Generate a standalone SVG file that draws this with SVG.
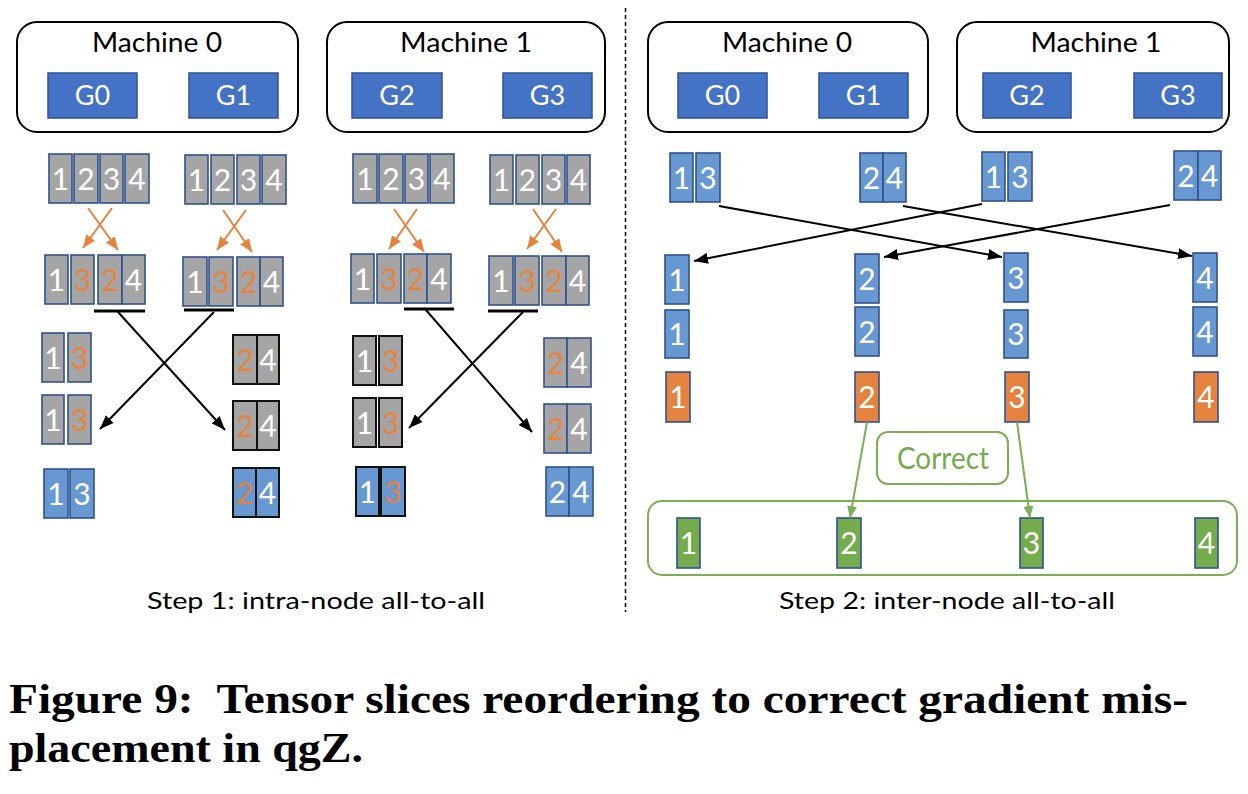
<svg xmlns="http://www.w3.org/2000/svg" width="1248" height="794" viewBox="0 0 1248 794">
<defs>
<style>
.mach{fill:#fff;stroke:#000;stroke-width:2}
.gbox{fill:#4472C4;stroke:#2F528F;stroke-width:1.5}
.glbl{font-family:Lato,"Open Sans",sans-serif;font-size:27px;fill:#fff;text-anchor:middle}
.mlbl{font-family:Lato,"Open Sans",sans-serif;font-size:27px;fill:#000;text-anchor:middle}
.gr{fill:#A5A5A5;stroke:#2F528F;stroke-width:1.6}
.grk{fill:#A5A5A5;stroke:#111;stroke-width:2}
.bl{fill:#6798D2;stroke:#2F528F;stroke-width:1.6}
.blk{fill:#6798D2;stroke:#111;stroke-width:2}
.or{fill:#E5823E;stroke:#2F528F;stroke-width:1.6}
.gn{fill:#74AB4C;stroke:#2F528F;stroke-width:1.6}
.n{font-family:Lato,"Open Sans",sans-serif;font-size:30px;fill:#fff;text-anchor:middle}
.no{font-family:Lato,"Open Sans",sans-serif;font-size:30px;fill:#E5823E;text-anchor:middle}
.ul{stroke:#000;stroke-width:3}
.ab{stroke:#000;stroke-width:2;fill:none;marker-end:url(#mb)}
.ao{stroke:#E5823E;stroke-width:2;fill:none;marker-end:url(#mo)}
.ag{stroke:#7BAF53;stroke-width:2;fill:none;marker-end:url(#mg)}
.step{font-family:Lato,"Open Sans",sans-serif;font-size:24px;fill:#000;text-anchor:middle}
.cap{font-family:"Liberation Serif","Times New Roman",serif;font-size:43px;font-weight:bold;fill:#000}
</style>
<marker id="mb" markerUnits="userSpaceOnUse" markerWidth="14" markerHeight="11" refX="14" refY="5.5" orient="auto"><path d="M0,0 L14,5.5 L0,11 z" fill="#000"/></marker>
<marker id="mo" markerUnits="userSpaceOnUse" markerWidth="13" markerHeight="11" refX="13" refY="5.5" orient="auto"><path d="M0,0 L13,5.5 L0,11 z" fill="#E5823E"/></marker>
<marker id="mg" markerUnits="userSpaceOnUse" markerWidth="12" markerHeight="10" refX="12" refY="5" orient="auto"><path d="M0,0 L12,5 L0,10 z" fill="#7BAF53"/></marker>
</defs>
<rect width="1248" height="794" fill="#fff"/>

<line x1="625.5" y1="8" x2="625.5" y2="612" stroke="#000" stroke-width="1.5" stroke-dasharray="4 3"/>

<!-- Left machines -->
<g id="left-machine0">
<rect class="mach" x="17" y="22" width="281" height="110" rx="20"/>
<text class="mlbl" x="157" y="52" textLength="130" lengthAdjust="spacingAndGlyphs">Machine 0</text>
<rect class="gbox" x="48" y="73" width="89" height="45"/><text class="glbl" x="92.5" y="105">G0</text>
<rect class="gbox" x="189" y="73" width="89" height="45"/><text class="glbl" x="233.5" y="105">G1</text>
</g>
<g id="left-machine1">
<rect class="mach" x="327" y="22" width="278" height="110" rx="20"/>
<text class="mlbl" x="466" y="52" textLength="132" lengthAdjust="spacingAndGlyphs">Machine 1</text>
<rect class="gbox" x="352" y="73" width="90" height="45"/><text class="glbl" x="397" y="105">G2</text>
<rect class="gbox" x="503" y="73" width="89" height="45"/><text class="glbl" x="547.5" y="105">G3</text>
</g>

<!-- Right machines -->
<g id="right-machine0">
<rect class="mach" x="648" y="22" width="280" height="110" rx="20"/>
<text class="mlbl" x="787" y="52" textLength="130" lengthAdjust="spacingAndGlyphs">Machine 0</text>
<rect class="gbox" x="678" y="73" width="89" height="45"/><text class="glbl" x="722.5" y="105">G0</text>
<rect class="gbox" x="819" y="73" width="89" height="45"/><text class="glbl" x="863.5" y="105">G1</text>
</g>
<g id="right-machine1">
<rect class="mach" x="957" y="22" width="272" height="110" rx="20"/>
<text class="mlbl" x="1096" y="52" textLength="131" lengthAdjust="spacingAndGlyphs">Machine 1</text>
<rect class="gbox" x="983" y="73" width="88" height="45"/><text class="glbl" x="1027" y="105">G2</text>
<rect class="gbox" x="1134" y="73" width="88" height="45"/><text class="glbl" x="1178" y="105">G3</text>
</g>

<!-- Left panel, column G0 -->
<g id="l-g0-r1">
<rect class="gr" x="49" y="154" width="23" height="49"/><text class="n" x="60.5" y="189.5">1</text>
<rect class="gr" x="74" y="154" width="24" height="49"/><text class="n" x="86" y="189.5">2</text>
<rect class="gr" x="100" y="154" width="23" height="49"/><text class="n" x="111.5" y="189.5">3</text>
<rect class="gr" x="125" y="154" width="24" height="49"/><text class="n" x="137" y="189.5">4</text>
</g>
<g id="l-g0-r2">
<rect class="gr" x="45" y="255" width="23" height="49"/><text class="n" x="56.5" y="290.5">1</text>
<rect class="gr" x="71" y="255" width="23" height="49"/><text class="no" x="82.5" y="290.5">3</text>
<rect class="gr" x="98" y="255" width="24" height="49"/><text class="no" x="110" y="290.5">2</text>
<rect class="gr" x="122" y="255" width="23" height="49"/><text class="n" x="133.5" y="290.5">4</text>
<line class="ul" x1="94" y1="311" x2="145" y2="311"/>
</g>
<g id="l-g0-r3">
<rect class="gr" x="42" y="333" width="22" height="49"/><text class="n" x="53" y="368.5">1</text>
<rect class="gr" x="68" y="333" width="23" height="49"/><text class="no" x="79.5" y="368.5">3</text>
</g>
<g id="l-g0-r4">
<rect class="gr" x="42" y="395" width="22" height="49"/><text class="n" x="53" y="430.5">1</text>
<rect class="gr" x="68" y="395" width="23" height="49"/><text class="no" x="79.5" y="430.5">3</text>
</g>
<g id="l-g0-r5">
<rect class="bl" x="44" y="469" width="24" height="49"/><text class="n" x="56" y="504.5">1</text>
<rect class="bl" x="70" y="469" width="24" height="49"/><text class="n" x="82" y="504.5">3</text>
</g>

<!-- Left panel, column G1 -->
<g id="l-g1-r1">
<rect class="gr" x="185" y="155" width="23" height="49"/><text class="n" x="196.5" y="190.5">1</text>
<rect class="gr" x="211" y="155" width="23" height="49"/><text class="n" x="222.5" y="190.5">2</text>
<rect class="gr" x="237" y="155" width="23" height="49"/><text class="n" x="248.5" y="190.5">3</text>
<rect class="gr" x="262" y="155" width="24" height="49"/><text class="n" x="274" y="190.5">4</text>
</g>
<g id="l-g1-r2">
<rect class="gr" x="183" y="257" width="24" height="49"/><text class="n" x="195" y="292.5">1</text>
<rect class="gr" x="209" y="257" width="24" height="49"/><text class="no" x="221" y="292.5">3</text>
<rect class="gr" x="237" y="257" width="23" height="49"/><text class="no" x="248.5" y="292.5">2</text>
<rect class="gr" x="260" y="257" width="23" height="49"/><text class="n" x="271.5" y="292.5">4</text>
<line class="ul" x1="184" y1="310" x2="234" y2="310"/>
</g>
<g id="l-g1-r3">
<rect class="grk" x="233" y="335" width="24" height="49"/><text class="no" x="245" y="370.5">2</text>
<rect class="grk" x="257" y="335" width="22" height="49"/><text class="n" x="268" y="370.5">4</text>
</g>
<g id="l-g1-r4">
<rect class="grk" x="233" y="401" width="24" height="49"/><text class="no" x="245" y="436.5">2</text>
<rect class="grk" x="257" y="401" width="22" height="49"/><text class="n" x="268" y="436.5">4</text>
</g>
<g id="l-g1-r5">
<rect class="blk" x="233" y="468" width="23" height="49"/><text class="no" x="244.5" y="503.5">2</text>
<rect class="blk" x="256" y="468" width="23" height="49"/><text class="n" x="267.5" y="503.5">4</text>
</g>

<!-- Left panel, column G2 -->
<g id="l-g2-r1">
<rect class="gr" x="353" y="154" width="24" height="49"/><text class="n" x="365" y="189.5">1</text>
<rect class="gr" x="379" y="154" width="24" height="49"/><text class="n" x="391" y="189.5">2</text>
<rect class="gr" x="405" y="154" width="23" height="49"/><text class="n" x="416.5" y="189.5">3</text>
<rect class="gr" x="430" y="154" width="24" height="49"/><text class="n" x="442" y="189.5">4</text>
</g>
<g id="l-g2-r2">
<rect class="gr" x="351" y="254" width="23" height="49"/><text class="n" x="362.5" y="289.5">1</text>
<rect class="gr" x="377" y="254" width="24" height="49"/><text class="no" x="389" y="289.5">3</text>
<rect class="gr" x="404" y="254" width="23" height="49"/><text class="no" x="415.5" y="289.5">2</text>
<rect class="gr" x="427" y="254" width="24" height="49"/><text class="n" x="439" y="289.5">4</text>
<line class="ul" x1="404" y1="309" x2="454" y2="309"/>
</g>
<g id="l-g2-r3">
<rect class="grk" x="353" y="336" width="23" height="49"/><text class="n" x="364.5" y="371.5">1</text>
<rect class="grk" x="379" y="336" width="23" height="49"/><text class="no" x="390.5" y="371.5">3</text>
</g>
<g id="l-g2-r4">
<rect class="grk" x="353" y="398" width="23" height="49"/><text class="n" x="364.5" y="433.5">1</text>
<rect class="grk" x="379" y="398" width="23" height="49"/><text class="no" x="390.5" y="433.5">3</text>
</g>
<g id="l-g2-r5">
<rect class="blk" x="356" y="467" width="23" height="49"/><text class="n" x="367.5" y="502.5">1</text>
<rect class="blk" x="381" y="467" width="24" height="49"/><text class="no" x="393" y="502.5">3</text>
</g>

<!-- Left panel, column G3 -->
<g id="l-g3-r1">
<rect class="gr" x="490" y="155" width="23" height="49"/><text class="n" x="501.5" y="190.5">1</text>
<rect class="gr" x="516" y="155" width="23" height="49"/><text class="n" x="527.5" y="190.5">2</text>
<rect class="gr" x="542" y="155" width="23" height="49"/><text class="n" x="553.5" y="190.5">3</text>
<rect class="gr" x="567" y="155" width="23" height="49"/><text class="n" x="578.5" y="190.5">4</text>
</g>
<g id="l-g3-r2">
<rect class="gr" x="489" y="256" width="24" height="49"/><text class="n" x="501" y="291.5">1</text>
<rect class="gr" x="515" y="256" width="24" height="49"/><text class="no" x="527" y="291.5">3</text>
<rect class="gr" x="542" y="256" width="24" height="49"/><text class="no" x="554" y="291.5">2</text>
<rect class="gr" x="566" y="256" width="23" height="49"/><text class="n" x="577.5" y="291.5">4</text>
<line class="ul" x1="488" y1="311" x2="538" y2="311"/>
</g>
<g id="l-g3-r3">
<rect class="gr" x="544" y="338" width="23" height="49"/><text class="no" x="555.5" y="373.5">2</text>
<rect class="gr" x="567" y="338" width="24" height="49"/><text class="n" x="579" y="373.5">4</text>
</g>
<g id="l-g3-r4">
<rect class="gr" x="544" y="404" width="23" height="49"/><text class="no" x="555.5" y="439.5">2</text>
<rect class="gr" x="567" y="404" width="24" height="49"/><text class="n" x="579" y="439.5">4</text>
</g>
<g id="l-g3-r5">
<rect class="bl" x="546" y="467" width="23" height="49"/><text class="n" x="557.5" y="502.5">2</text>
<rect class="bl" x="569" y="467" width="24" height="49"/><text class="n" x="581" y="502.5">4</text>
</g>

<!-- Right panel row 1 -->
<g id="r-g0-r1">
<rect class="bl" x="670" y="153" width="23" height="49"/><text class="n" x="681.5" y="188.5">1</text>
<rect class="bl" x="696" y="153" width="24" height="49"/><text class="n" x="708" y="188.5">3</text>
</g>
<g id="r-g1-r1">
<rect class="bl" x="860" y="153" width="23" height="49"/><text class="n" x="871.5" y="188.5">2</text>
<rect class="bl" x="883" y="153" width="23" height="49"/><text class="n" x="894.5" y="188.5">4</text>
</g>
<g id="r-g2-r1">
<rect class="bl" x="982" y="152" width="23" height="49"/><text class="n" x="993.5" y="187.5">1</text>
<rect class="bl" x="1008" y="152" width="24" height="49"/><text class="n" x="1020" y="187.5">3</text>
</g>
<g id="r-g3-r1">
<rect class="bl" x="1174" y="151" width="24" height="49"/><text class="n" x="1186" y="186.5">2</text>
<rect class="bl" x="1198" y="151" width="23" height="49"/><text class="n" x="1209.5" y="186.5">4</text>
</g>

<!-- Right panel rows 2-4 -->
<g id="r-g0-stack">
<rect class="bl" x="665" y="255" width="24" height="49"/><text class="n" x="677" y="290.5">1</text>
<rect class="bl" x="665" y="310" width="24" height="48"/><text class="n" x="677" y="345">1</text>
<rect class="or" x="666" y="372" width="24" height="50"/><text class="n" x="678" y="408">1</text>
</g>
<g id="r-g1-stack">
<rect class="bl" x="855" y="254" width="24" height="49"/><text class="n" x="867" y="289.5">2</text>
<rect class="bl" x="855" y="307" width="24" height="49"/><text class="n" x="867" y="342.5">2</text>
<rect class="or" x="855" y="372" width="24" height="50"/><text class="n" x="867" y="408">2</text>
</g>
<g id="r-g2-stack">
<rect class="bl" x="1004" y="253" width="24" height="49"/><text class="n" x="1016" y="288.5">3</text>
<rect class="bl" x="1004" y="310" width="24" height="48"/><text class="n" x="1016" y="345">3</text>
<rect class="or" x="1005" y="372" width="24" height="50"/><text class="n" x="1017" y="408">3</text>
</g>
<g id="r-g3-stack">
<rect class="bl" x="1193" y="253" width="24" height="49"/><text class="n" x="1205" y="288.5">4</text>
<rect class="bl" x="1193" y="307" width="24" height="49"/><text class="n" x="1205" y="342.5">4</text>
<rect class="or" x="1194" y="372" width="24" height="50"/><text class="n" x="1206" y="408">4</text>
</g>

<g id="correct-label">
<rect x="877" y="432" width="131" height="52" rx="11" fill="#fff" stroke="#7BAF53" stroke-width="2"/>
<text x="943" y="469" font-family="Lato,'Open Sans',sans-serif" font-size="30" fill="#74AB4C" text-anchor="middle" textLength="92" lengthAdjust="spacingAndGlyphs">Correct</text>
</g>

<g id="corrected-result">
<rect x="648" y="501" width="589" height="74" rx="14" fill="none" stroke="#7BAF53" stroke-width="2"/>
<rect class="gn" x="677" y="518" width="23" height="50"/><text class="n" x="688.5" y="554">1</text>
<rect class="gn" x="837" y="518" width="24" height="50"/><text class="n" x="849" y="554">2</text>
<rect class="gn" x="1020" y="518" width="23" height="50"/><text class="n" x="1031.5" y="554">3</text>
<rect class="gn" x="1195" y="518" width="23" height="50"/><text class="n" x="1206.5" y="554">4</text>
</g>

<!-- Connectors -->
<g id="connectors">
<line class="ao" x1="112" y1="208" x2="83" y2="248"/>
<line class="ao" x1="88" y1="208" x2="118" y2="250"/>
<line class="ao" x1="246" y1="210" x2="217" y2="250"/>
<line class="ao" x1="223" y1="210" x2="252" y2="252"/>
<line class="ao" x1="417" y1="209" x2="389" y2="249"/>
<line class="ao" x1="394" y1="209" x2="424" y2="252"/>
<line class="ao" x1="556" y1="209" x2="527" y2="249"/>
<line class="ao" x1="533" y1="209" x2="562" y2="252"/>

<line class="ab" x1="118" y1="312" x2="225" y2="430"/>
<line class="ab" x1="214" y1="312" x2="100" y2="429"/>
<line class="ab" x1="426" y1="310" x2="532" y2="432"/>
<line class="ab" x1="523" y1="312" x2="409" y2="428"/>

<line class="ab" x1="719" y1="206" x2="1002" y2="257"/>
<line class="ab" x1="982" y1="204" x2="694" y2="261"/>
<line class="ab" x1="903" y1="206" x2="1192" y2="256"/>
<line class="ab" x1="1170" y1="205" x2="884" y2="257"/>

<line class="ag" x1="867" y1="422" x2="850" y2="518"/>
<line class="ag" x1="1017" y1="422" x2="1030" y2="518"/>
</g>

<text class="step" x="316" y="609" textLength="338" lengthAdjust="spacingAndGlyphs">Step 1: intra-node all-to-all</text>
<text class="step" x="947" y="609" textLength="336" lengthAdjust="spacingAndGlyphs">Step 2: inter-node all-to-all</text>

<text class="cap" x="9" y="713" textLength="1179" lengthAdjust="spacingAndGlyphs" xml:space="preserve">Figure 9:  Tensor slices reordering to correct gradient mis-</text>
<text class="cap" x="9" y="762" textLength="354" lengthAdjust="spacingAndGlyphs">placement in qgZ.</text>
</svg>
